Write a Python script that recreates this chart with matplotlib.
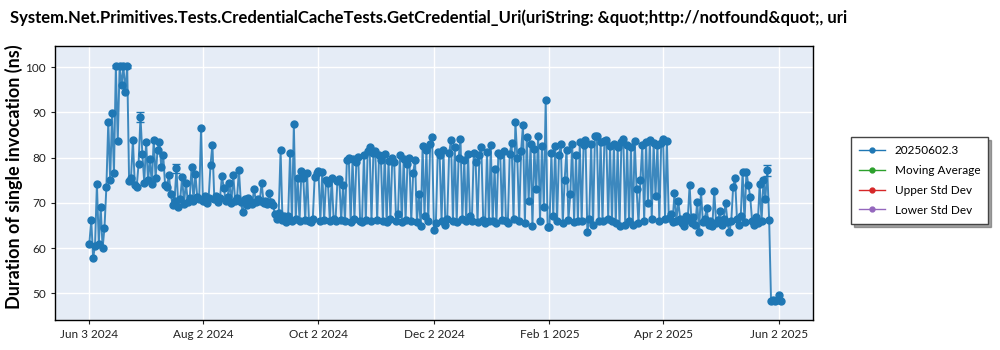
import matplotlib
matplotlib.use('Agg')
import matplotlib.pyplot as plt
import matplotlib.dates as mdates
import pandas as pd

plt.rcParams['font.family'] = ['Lato', 'DejaVu Sans']

title = 'System.Net.Primitives.Tests.CredentialCacheTests.GetCredential_Uri(uriString: &quot;http://notfound&quot;, uri'
build = '20250602.3'
first_day = '2024-06-03'

# one run per day, ns per invocation
jun_2024 = [61.0, 66.3, 57.8, 60.5, 74.2, 61.0, 69.0, 60.0, 64.5, 73.5,
            87.9, 75.0, 89.9, 76.5, 100.2, 83.6, 100.2, 96.0, 100.2, 94.6,
            100.2, 74.8, 75.5, 83.9, 74.0, 73.5, 78.6, 89.0]
jul_2024 = [80.8, 74.5, 83.5, 75.0, 79.6, 74.2, 84.0, 75.5, 81.7, 83.4,
            77.9, 80.6, 74.0, 73.5, 76.2, 72.0, 69.5, 70.5, 77.7, 69.0,
            70.8, 75.7, 69.8, 74.5, 70.2, 71.0, 77.9, 70.5, 76.4, 71.2,
            70.8]
aug_2024 = [86.6, 70.5, 71.5, 70.0, 71.0, 78.4, 82.9, 70.8, 71.5, 70.2,
            71.0, 75.9, 73.4, 70.5, 71.2, 74.4, 70.0, 76.2, 70.5, 71.0,
            77.3, 70.2, 68.0, 70.8, 69.5, 71.0, 70.5, 69.8, 73.1, 70.2,
            70.8]
sep_2024 = [70.5, 74.5, 70.0, 70.5, 69.8, 72.1, 70.2, 69.5, 67.5, 66.5,
            67.8, 81.6, 66.2, 67.0, 65.8, 67.2, 81.0, 66.0, 87.4, 66.5,
            75.5, 66.0, 77.0, 75.5, 66.2, 76.5, 66.0, 65.8, 66.4, 75.8]
oct_2024 = [76.5, 77.0, 66.0, 76.8, 66.2, 75.0, 74.5, 66.0, 75.5, 66.4,
            66.0, 74.8, 75.2, 66.2, 74.0, 66.0, 79.5, 80.0, 65.8, 79.8,
            66.5, 79.0, 80.2, 66.0, 65.8, 80.5, 66.2, 81.5, 82.4, 66.0,
            81.0]
nov_2024 = [81.5, 66.2, 80.5, 79.5, 66.0, 80.8, 65.8, 79.2, 66.5, 80.0,
            79.0, 66.0, 67.5, 80.5, 65.8, 79.8, 66.2, 78.5, 80.0, 66.0,
            76.5, 79.5, 65.8, 72.0, 64.8, 82.5, 67.0, 81.8, 66.0, 83.0]
dec_2024 = [84.6, 63.9, 65.5, 81.2, 80.5, 66.0, 81.6, 65.2, 66.5, 81.0,
            83.9, 66.0, 82.4, 65.8, 80.0, 84.2, 66.5, 79.5, 66.0, 80.8,
            67.2, 66.0, 81.0, 79.0, 65.8, 80.5, 82.4, 66.2, 65.5, 81.2,
            66.0]
jan_2025 = [82.7, 66.0, 77.5, 65.5, 81.0, 80.5, 66.2, 81.5, 66.0, 65.5,
            80.8, 83.3, 66.5, 87.9, 80.0, 66.0, 81.5, 87.2, 65.5, 84.5,
            70.5, 83.0, 64.8, 82.0, 73.0, 84.8, 66.0, 82.5, 69.0, 92.7,
            64.6]
feb_2025 = [64.6, 81.0, 67.0, 82.5, 66.0, 80.5, 83.0, 65.5, 75.0, 81.8,
            66.2, 72.0, 83.1, 65.8, 80.5, 66.0, 83.5, 66.0, 82.7, 84.0,
            63.5, 66.5, 83.0, 65.0, 84.8, 84.8, 66.0, 83.5]
mar_2025 = [66.0, 83.7, 84.0, 66.5, 82.5, 66.0, 83.0, 65.5, 82.4, 64.8,
            83.5, 84.2, 65.0, 82.8, 66.0, 82.4, 65.2, 83.7, 73.0, 65.5,
            75.0, 82.7, 66.0, 83.5, 70.0, 83.9, 66.4, 83.2, 71.5, 82.9,
            66.0]
apr_2025 = [83.2, 84.2, 66.5, 83.7, 66.6, 67.5, 65.8, 72.1, 66.0, 70.5,
            66.5, 65.5, 64.8, 67.0, 66.2, 74.0, 65.5, 66.8, 65.0, 70.3,
            63.5, 72.6, 65.8, 66.5, 68.8, 65.2, 66.0, 64.8, 72.7, 65.5]
may_2025 = [66.2, 68.1, 65.0, 66.5, 70.0, 65.8, 63.5, 66.0, 73.6, 75.4,
            66.5, 65.2, 67.0, 76.9, 65.8, 76.9, 74.0, 71.3, 66.0, 65.0,
            66.8, 65.5, 74.2, 66.0, 75.0, 70.9, 77.2, 66.3, 48.3, 48.5,
            48.2]
jun_2025 = [48.6, 49.6, 48.3]

# runs with a noticeable spread
err_dates = ['2024-06-17', '2024-06-19', '2024-06-21', '2024-06-23',
             '2024-06-30', '2024-07-19', '2025-05-27']
err_sizes = [0.3, 0.3, 0.3, 0.3, 1.2, 1.0, 1.2]

tick_dates = ['2024-06-03', '2024-08-02', '2024-10-02', '2024-12-02',
              '2025-02-01', '2025-04-02', '2025-06-02']

values = (jun_2024 + jul_2024 + aug_2024 + sep_2024 + oct_2024 + nov_2024 +
          dec_2024 + jan_2025 + feb_2025 + mar_2025 + apr_2025 + may_2025 +
          jun_2025)
series = pd.Series(values, index=pd.date_range(first_day, periods=len(values), freq='D'))

blue = '#1f77b4'

fig = plt.figure(figsize=(10, 3.5), dpi=100)
ax = fig.add_axes([0.0547, 0.0857, 0.758, 0.783])
ax.set_facecolor('#e5ecf6')

ax.plot(series.index, series.values, color=blue, lw=1.4, alpha=0.85, zorder=2)
ax.plot(series.index, series.values, ls='none', marker='o', ms=5,
        color=blue, label=build, zorder=3)
err_x = pd.to_datetime(err_dates)
ax.errorbar(err_x, series.loc[err_x].values, yerr=err_sizes, fmt='none',
            ecolor=blue, elinewidth=1, capsize=3, zorder=3)

# empty overlays, only listed in the legend
ax.plot([], [], color='#2ca02c', marker='o', ms=3.5, lw=1, label='Moving Average')
ax.plot([], [], color='#d62728', marker='o', ms=3.5, lw=1, label='Upper Std Dev')
ax.plot([], [], color='#9467bd', marker='o', ms=3.5, lw=1, label='Lower Std Dev')

ax.set_xlim(pd.Timestamp('2024-05-15 17:00'), pd.Timestamp('2025-06-20 00:00'))
ax.set_ylim(44.1, 104.7)
ax.set_yticks([50, 60, 70, 80, 90, 100])
ax.set_xticks(pd.to_datetime(tick_dates))
ax.xaxis.set_major_formatter(mdates.DateFormatter('%b %-d %Y'))
ax.grid(True, color='white', lw=1)
ax.set_axisbelow(True)
ax.tick_params(labelsize=8.5, length=3, colors='#222222')
for s in ax.spines.values():
    s.set_color('black')
    s.set_linewidth(1)

fig.text(0.01, 0.949, title, fontsize=12, fontweight='bold', va='center', ha='left')
fig.text(0.014, 0.496, 'Duration of single invocation (ns)', fontsize=13,
         fontweight='bold', rotation=90, va='center', ha='center')

handles, labels = ax.get_legend_handles_labels()
handles[0] = plt.Line2D([], [], color=blue, marker='o', ms=3.5, lw=1)
leg = fig.legend(handles, labels, loc='upper left', bbox_to_anchor=(0.845, 0.626),
                 fontsize=8.5, frameon=True, fancybox=False, shadow=True,
                 edgecolor='#444444', borderpad=0.7, labelspacing=0.75,
                 handlelength=2.2)
leg.get_frame().set_linewidth(1)

fig.savefig('out.png', dpi=100)
